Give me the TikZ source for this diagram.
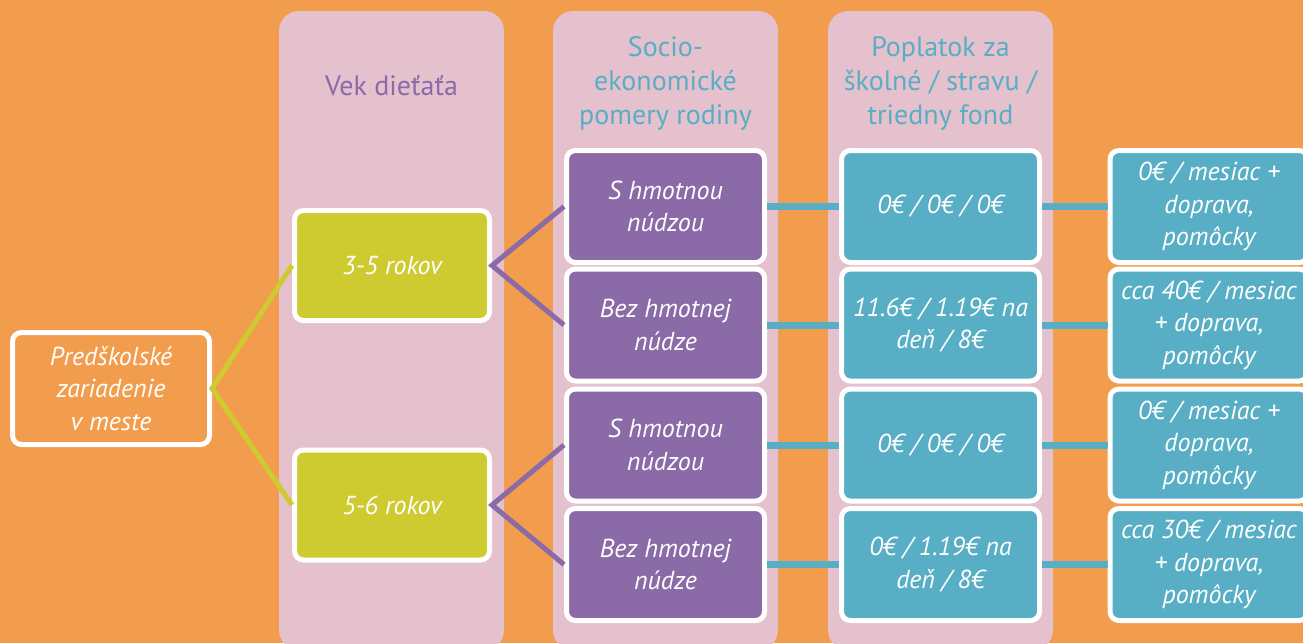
\documentclass[tikz,border=0pt]{standalone}
\usepackage{fontspec}
\setmainfont{PT Sans}
\definecolor{bgor}{HTML}{F29C4D}
\definecolor{colpink}{HTML}{E5C1CE}
\definecolor{lime}{HTML}{CDCB2F}
\definecolor{lilac}{HTML}{8A6AA7}
\definecolor{teal2}{HTML}{58AEC4}
\tikzset{
  box/.style={draw=white, line width=5pt, rounded corners=9pt, text=white, align=center,
    font=\fontsize{26}{32.5}\selectfont\itshape, inner sep=0pt},
  rootbox/.style={box, fill=bgor, minimum width=197pt, minimum height=112pt},
  agebox/.style={box, fill=lime, minimum width=195pt, minimum height=110pt},
  socbox/.style={box, fill=lilac, minimum width=198pt, minimum height=112pt},
  feebox/.style={box, fill=teal2, minimum width=198pt, minimum height=112pt},
  head/.style={align=center, font=\fontsize{28}{34}\selectfont, inner sep=0pt},
  col/.style={fill=colpink, rounded corners=20pt},
  limeline/.style={draw=lime, line width=5pt},
  lilacline/.style={draw=lilac, line width=5pt},
  tealline/.style={draw=teal2, line width=7pt},
}
\begin{document}
\begin{tikzpicture}[x=1pt,y=-1pt]
\useasboundingbox (0,0) rectangle (1303,643);
\fill[bgor] (0,0) rectangle (1303,643);
\fill[col] (279,11) rectangle (504,650);
\fill[col] (553,11) rectangle (778,650);
\fill[col] (828,11) rectangle (1053,650);

\node[head, text=lilac] (h1) at (391.5,86) {Vek dieťaťa};
\node[head, text=teal2] (h2) at (665.5,83) {Socio-\\ekonomické\\pomery rodiny};
\node[head, text=teal2] (h3) at (940.5,83) {Poplatok za\\školné / stravu /\\triedny fond};

\node[rootbox] (root) at (111,388.5) {Predškolské\\zariadenie\\v meste};
\node[agebox] (g1) at (392,265.5) {3-5 rokov};
\node[agebox] (g2) at (392,505) {5-6 rokov};

\node[socbox] (p1) at (665.5,206.5) {S hmotnou\\núdzou};
\node[socbox] (p2) at (665.5,325) {Bez hmotnej\\núdze};
\node[socbox] (p3) at (665.5,445) {S hmotnou\\núdzou};
\node[socbox] (p4) at (665.5,564.5) {Bez hmotnej\\núdze};

\node[feebox] (t1) at (940.5,206.5) {0€ / 0€ / 0€};
\node[feebox] (t2) at (940.5,325) {11.6€ / 1.19€ na\\deň / 8€};
\node[feebox] (t3) at (940.5,445) {0€ / 0€ / 0€};
\node[feebox] (t4) at (940.5,564.5) {0€ / 1.19€ na\\deň / 8€};

\node[feebox] (r1) at (1209,206.5) {0€ / mesiac +\\doprava,\\pomôcky};
\node[feebox] (r2) at (1209,325) {cca 40€ / mesiac\\+ doprava,\\pomôcky};
\node[feebox] (r3) at (1209,445) {0€ / mesiac +\\doprava,\\pomôcky};
\node[feebox] (r4) at (1209,564.5) {cca 30€ / mesiac\\+ doprava,\\pomôcky};

\draw[limeline] (g1.west) -- (root.east) -- (g2.west);
\draw[lilacline] (p1.west) -- (g1.east) -- (p2.west);
\draw[lilacline] (p3.west) -- (g2.east) -- (p4.west);
\draw[tealline] (p1.east) -- (t1.west);
\draw[tealline] (p2.east) -- (t2.west);
\draw[tealline] (p3.east) -- (t3.west);
\draw[tealline] (p4.east) -- (t4.west);
\draw[tealline] (t1.east) -- (r1.west);
\draw[tealline] (t2.east) -- (r2.west);
\draw[tealline] (t3.east) -- (r3.west);
\draw[tealline] (t4.east) -- (r4.west);
\end{tikzpicture}
\end{document}
